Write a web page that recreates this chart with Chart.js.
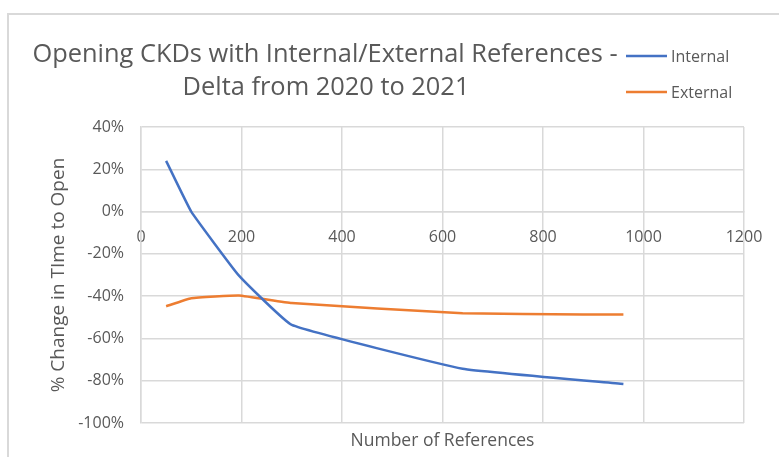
<!DOCTYPE html>
<html><head><meta charset="utf-8">
<script src="https://cdn.jsdelivr.net/npm/chart.js@4/dist/chart.umd.min.js"></script>
<style>html,body{margin:0;padding:0;background:#fff}#wrap{width:779px;height:457px;position:relative}</style>
</head><body><div id="wrap"><canvas id="c" width="779" height="457"></canvas></div>
<script>
const chartTitle = ['Opening CKDs with Internal/External References -', 'Delta from 2020 to 2021'];
const seriesNames = ['Internal', 'External'];
const seriesColors = ['#4472C4', '#ED7D31'];
const internalX = [50, 100, 195, 300, 640, 960];
const internalY = [0.24, 0.0, -0.303, -0.536, -0.743, -0.815];
const externalX = [50, 100, 195, 300, 640, 880, 960];
const externalY = [-0.448, -0.41, -0.397, -0.433, -0.481, -0.487, -0.487];
const xTicks = [0, 200, 400, 600, 800, 1000, 1200];
const yTicks = [0.4, 0.2, 0, -0.2, -0.4, -0.6, -0.8, -1.0];
const xTitle = 'Number of References';
const yTitle = '% Change in TIme to Open';

const FONT = "'Open Sans', 'Noto Sans', sans-serif";
const TXT = '#595959';
const GRID = '#d9d9d9';

const toPts = (xs, ys) => xs.map((x, i) => ({x: x, y: ys[i]}));

const deco = {
  id: 'deco',
  beforeDraw(chart) {
    const ctx = chart.ctx;
    ctx.save();
    ctx.fillStyle = '#fff';
    ctx.fillRect(0, 0, chart.width, chart.height);
    ctx.strokeStyle = GRID;
    ctx.lineWidth = 2;
    ctx.strokeRect(8, 14, 900, 600);
    ctx.restore();
  },
  afterDraw(chart) {
    const ctx = chart.ctx;
    ctx.save();
    ctx.fillStyle = TXT;
    ctx.textAlign = 'center';
    ctx.textBaseline = 'middle';
    ctx.font = '25.4px ' + FONT;
    ctx.fillText(chartTitle[0], 325, 55);
    ctx.fillText(chartTitle[1], 326, 88);
    ctx.font = '16px ' + FONT;
    ctx.textAlign = 'left';
    const ys = [56, 92];
    chart.data.datasets.forEach((ds, i) => {
      ctx.strokeStyle = ds.borderColor;
      ctx.lineWidth = 2.5;
      ctx.beginPath();
      ctx.moveTo(626, ys[i]);
      ctx.lineTo(667, ys[i]);
      ctx.stroke();
      ctx.fillStyle = TXT;
      ctx.fillText(ds.label, 671, ys[i] + 1);
    });
    ctx.restore();
  }
};

new Chart(document.getElementById('c'), {
  type: 'line',
  data: {
    datasets: [
      {label: seriesNames[0], data: toPts(internalX, internalY), borderColor: seriesColors[0], backgroundColor: seriesColors[0], borderWidth: 2.5, pointRadius: 0, tension: 0.1, xAxisID: 'x', yAxisID: 'y'},
      {label: seriesNames[1], data: toPts(externalX, externalY), borderColor: seriesColors[1], backgroundColor: seriesColors[1], borderWidth: 2.5, pointRadius: 0, tension: 0.1, xAxisID: 'x', yAxisID: 'y'}
    ]
  },
  options: {
    responsive: false,
    animation: false,
    layout: {padding: {top: 127, right: 35, bottom: 0, left: 0}},
    plugins: {legend: {display: false}, title: {display: false}, tooltip: {enabled: false}},
    scales: {
      x: {
        type: 'linear', position: {y: 0}, min: 0, max: 1200,
        afterBuildTicks: s => { s.ticks = xTicks.map(v => ({value: v})); },
        grid: {color: GRID, lineWidth: 1.5, drawTicks: false},
        border: {color: GRID, width: 1.5},
        ticks: {color: TXT, padding: 16, font: {family: FONT, size: 16}, maxRotation: 0, callback: v => String(v)}
      },
      x2: {
        type: 'linear', position: 'bottom', min: 0, max: 1200,
        ticks: {display: false}, grid: {display: false}, border: {display: false},
        title: {display: true, text: xTitle, color: TXT, font: {family: FONT, size: 17.5}, padding: {top: 0, bottom: 5}},
        afterFit: s => { s.height = 34; }
      },
      y: {
        type: 'linear', position: 'left', min: -1, max: 0.4,
        afterBuildTicks: s => { s.ticks = yTicks.map(v => ({value: v})); },
        grid: {color: GRID, lineWidth: 1.5, drawTicks: false},
        border: {color: GRID, width: 1.5},
        ticks: {color: TXT, padding: 17, font: {family: FONT, size: 16}, callback: v => Math.round(v * 100) + '%'},
        title: {display: true, text: yTitle, color: TXT, font: {family: FONT, size: 19}, padding: {top: 47, bottom: 0}},
        afterFit: s => { s.width = 141; }
      }
    }
  },
  plugins: [deco]
});
</script>
</body></html>
